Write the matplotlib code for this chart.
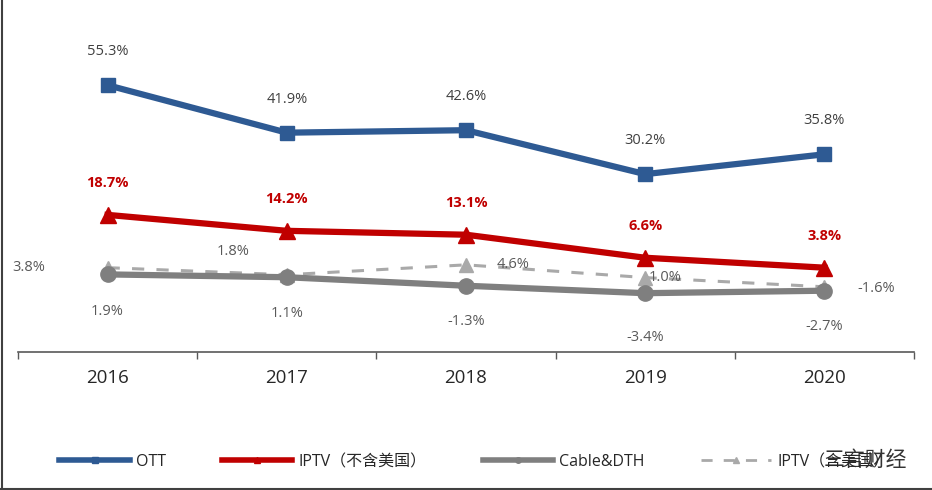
'''
OTT / IPTV / Cable&DTH growth, 2016-2020
'''
import matplotlib
matplotlib.use('Agg')
import matplotlib.pyplot as plt
from matplotlib.lines import Line2D

plt.rcParams['font.family'] = ['Open Sans', 'Noto Sans CJK SC', 'DejaVu Sans']

years = ['2016', '2017', '2018', '2019', '2020']
ott = [55.3, 41.9, 42.6, 30.2, 35.8]
iptv_ex_us = [18.7, 14.2, 13.1, 6.6, 3.8]
cable_dth = [1.9, 1.1, -1.3, -3.4, -2.7]
iptv_in_us = [3.8, 1.8, 4.6, 1.0, -1.6]

labels = ['OTT', 'IPTV（不含美国）', 'Cable&DTH', 'IPTV（含美国）']

c_ott = '#2E5A93'
c_iptv = '#C00000'
c_cable = '#7F7F7F'
c_dash = '#A9A9A9'

fig = plt.figure(figsize=(9.32, 4.9), dpi=100)
ax = fig.add_axes([18 / 932, 1 - 352 / 490, 896 / 932, 332 / 490])
x = range(len(years))

ax.plot(x, iptv_in_us, color=c_dash, lw=2.2, ls=(0, (4, 4)), marker='^', ms=10, zorder=2)
ax.plot(x, cable_dth, color=c_cable, lw=4.5, marker='o', ms=11, zorder=3)
ax.plot(x, iptv_ex_us, color=c_iptv, lw=4.5, marker='^', ms=11, zorder=4)
ax.plot(x, ott, color=c_ott, lw=4.5, marker='s', ms=10, zorder=5)

# value labels
for i, v in enumerate(ott):
    ax.annotate(f'{v}%', (i, v), xytext=(0, 24), textcoords='offset points',
                ha='center', va='center', fontsize=10.5, color='#404040')
for i, v in enumerate(iptv_ex_us):
    ax.annotate(f'{v}%', (i, v), xytext=(0, 23), textcoords='offset points',
                ha='center', va='center', fontsize=10.5, color=c_iptv, fontweight='bold')
cable_off = [-27, -26, -26, -32, -26]
for i, v in enumerate(cable_dth):
    ax.annotate(f'{v}%', (i, v), xytext=(0, cable_off[i]), textcoords='offset points',
                ha='center', va='center', fontsize=10.5, color='#595959')
dash_off = [(-57, 0), (-39, 17), (34, 0), (14, 0), (37, -1)]
for i, v in enumerate(iptv_in_us):
    ax.annotate(f'{v}%', (i, v), xytext=dash_off[i], textcoords='offset points',
                ha='center', va='center', fontsize=10.5, color='#595959')

ax.set_xlim(-0.5, 4.5)
ax.set_ylim(-20, 73.7)
ax.set_yticks([])
ax.set_xticks(range(len(years)))
ax.set_xticklabels(years, fontsize=13.5, color='#262626')
ax.tick_params(axis='x', which='major', length=0, pad=12)
ax.set_xticks([i - 0.5 for i in range(len(years) + 1)], minor=True)
ax.tick_params(axis='x', which='minor', length=5, width=1, color='#595959', direction='out')
for s in ['top', 'left', 'right']:
    ax.spines[s].set_visible(False)
ax.spines['bottom'].set_color('#595959')
ax.spines['bottom'].set_linewidth(1.2)

handles = [
    Line2D([], [], color=c_ott, lw=4, marker='s', ms=5),
    Line2D([], [], color=c_iptv, lw=4, marker='^', ms=5),
    Line2D([], [], color=c_cable, lw=4, marker='o', ms=4),
    Line2D([], [], color=c_dash, lw=2, ls=(0, (4, 4)), marker='^', ms=5),
]
fig.legend(handles, labels, loc='center left', bbox_to_anchor=(45 / 932, 1 - 462 / 490),
           ncol=4, frameon=False, fontsize=11.5, handlelength=4.4, columnspacing=3.5,
           handletextpad=0.4, labelcolor='#262626')

# watermark
fig.text(865 / 932, 1 - 460 / 490, '三言财经', fontsize=15, color='#333333',
         ha='center', va='center')

# screenshot border
fig.add_artist(Line2D([1.5 / 932, 1.5 / 932], [0, 1], color='#404040', lw=1.5))
fig.add_artist(Line2D([0, 1], [1.5 / 490, 1.5 / 490], color='#404040', lw=1.5))

fig.savefig('out.png', dpi=100)
